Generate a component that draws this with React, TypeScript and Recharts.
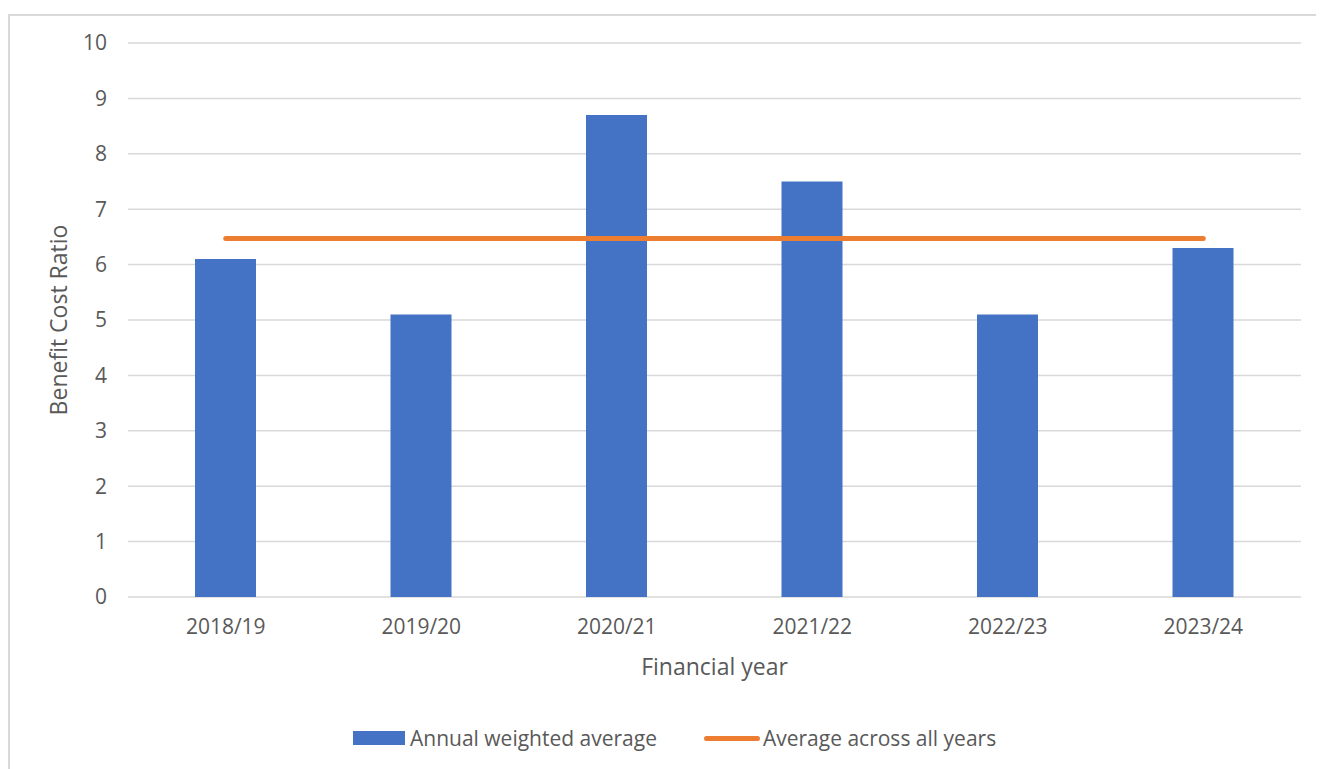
import React from 'react';
import {
    ComposedChart,
    Bar,
    Line,
    XAxis,
    YAxis,
    CartesianGrid,
} from 'recharts';

const years = ['2018/19', '2019/20', '2020/21', '2021/22', '2022/23', '2023/24'];
const annualWeighted = [6.1, 5.1, 8.7, 7.5, 5.1, 6.3];
const allYearsAverage = [6.47, 6.47, 6.47, 6.47, 6.47, 6.47];
const yTicks = [0, 1, 2, 3, 4, 5, 6, 7, 8, 9, 10];

const BLUE = '#4472c4';
const ORANGE = '#ed7d31';
const TEXT = '#595959';
const GRID = '#d9d9d9';
const FONT = '"Open Sans", "Noto Sans", sans-serif';

const data = years.map((year, i) => ({
    year,
    annual: annualWeighted[i],
    average: allYearsAverage[i],
}));

const App: React.FC = () => {
    return (
        <div
            style={{
                position: 'relative',
                marginTop: 6,
                width: 1320,
                height: 760,
                border: `2px solid ${GRID}`,
                fontFamily: FONT,
                boxSizing: 'content-box',
            }}
        >
            <ComposedChart
                width={1313}
                height={760}
                data={data}
                margin={{ top: 27, right: 22, left: 21, bottom: 89 }}
            >
                <CartesianGrid stroke={GRID} strokeWidth={1.5} vertical={false} />
                <XAxis
                    dataKey="year"
                    height={90}
                    axisLine={false}
                    tickLine={false}
                    tickSize={0}
                    tickMargin={22}
                    tick={{ fill: TEXT, fontSize: 21, fontFamily: FONT }}
                    label={{
                        value: 'Financial year',
                        position: 'insideBottom',
                        offset: 12,
                        fill: TEXT,
                        fontSize: 23,
                        fontFamily: FONT,
                    }}
                />
                <YAxis
                    width={97}
                    domain={[0, 10]}
                    ticks={yTicks}
                    interval={0}
                    axisLine={false}
                    tickLine={false}
                    tickSize={0}
                    tickMargin={21}
                    tick={{ fill: TEXT, fontSize: 21, fontFamily: FONT }}
                    label={{
                        value: 'Benefit Cost Ratio',
                        angle: -90,
                        position: 'insideLeft',
                        offset: 28,
                        fill: TEXT,
                        fontSize: 23,
                        fontFamily: FONT,
                        style: { textAnchor: 'middle' },
                    }}
                />
                <Bar dataKey="annual" fill={BLUE} barSize={61} isAnimationActive={false} />
                <Line
                    dataKey="average"
                    stroke={ORANGE}
                    strokeWidth={5}
                    strokeLinecap="round"
                    dot={false}
                    activeDot={false}
                    isAnimationActive={false}
                />
            </ComposedChart>

            {/* legend drawn by hand, sits under the axis title */}
            <div
                style={{
                    position: 'absolute',
                    left: 343,
                    top: 708,
                    height: 28,
                    display: 'flex',
                    alignItems: 'center',
                    fontSize: 21,
                    color: TEXT,
                    whiteSpace: 'nowrap',
                }}
            >
                <span style={{ width: 52, height: 14, background: BLUE, marginRight: 5 }} />
                <span>Annual weighted average</span>
                <span
                    style={{
                        width: 56,
                        height: 5,
                        borderRadius: 3,
                        background: ORANGE,
                        marginLeft: 47,
                        marginRight: 3,
                    }}
                />
                <span>Average across all years</span>
            </div>
        </div>
    );
};

export default App;
